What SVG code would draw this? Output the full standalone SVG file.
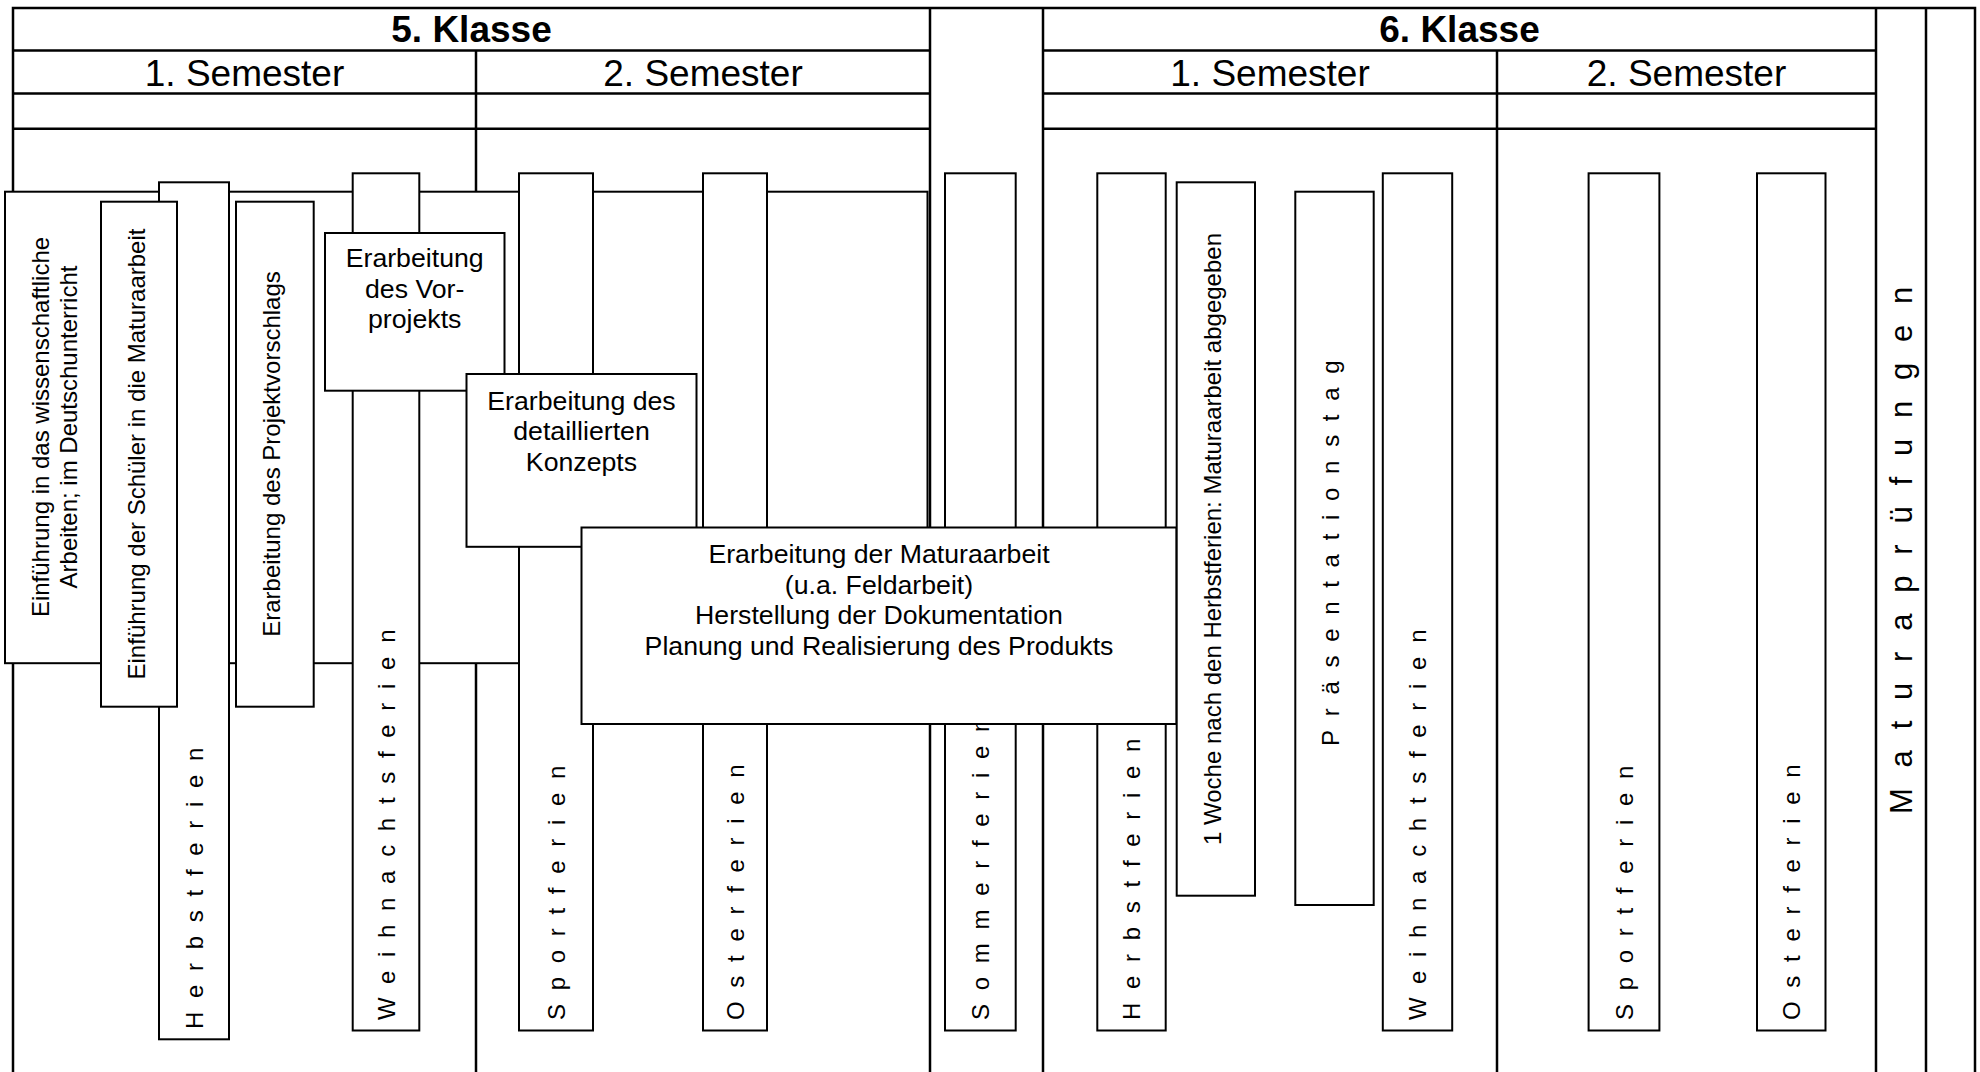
<svg xmlns="http://www.w3.org/2000/svg" width="1980" height="1072" viewBox="0 0 1980 1072">
<style>
.tbl{stroke:#000;stroke-width:2.5;fill:none}
.box{fill:#fff;stroke:#000;stroke-width:2}
.t{font-family:"Liberation Sans",Arial,Helvetica,sans-serif;fill:#000}
.hb{font-size:37px;font-weight:bold;text-anchor:middle}
.hs{font-size:37px;text-anchor:middle}
.rv{font-size:24px;text-anchor:middle}
.sp{font-size:24px;letter-spacing:13.7px}
.mp{font-size:31px;letter-spacing:20.8px}
.bx{font-size:26.7px;text-anchor:middle}
</style>
<rect width="1980" height="1072" fill="#fff"/>
<g id="table">
  <rect class="tbl" x="13" y="8" width="1962" height="1080"/>
  <line class="tbl" x1="13" y1="50.5" x2="930" y2="50.5"/>
  <line class="tbl" x1="1043" y1="50.5" x2="1876" y2="50.5"/>
  <line class="tbl" x1="13" y1="93.4" x2="930" y2="93.4"/>
  <line class="tbl" x1="1043" y1="93.4" x2="1876" y2="93.4"/>
  <line class="tbl" x1="13" y1="128.8" x2="930" y2="128.8"/>
  <line class="tbl" x1="1043" y1="128.8" x2="1876" y2="128.8"/>
  <line class="tbl" x1="930" y1="8" x2="930" y2="1072"/>
  <line class="tbl" x1="1043" y1="8" x2="1043" y2="1072"/>
  <line class="tbl" x1="1876" y1="8" x2="1876" y2="1072"/>
  <line class="tbl" x1="1926" y1="8" x2="1926" y2="1072"/>
  <line class="tbl" x1="476" y1="50.5" x2="476" y2="1072"/>
  <line class="tbl" x1="1497" y1="50.5" x2="1497" y2="1072"/>
  <text class="t hb" x="471.5" y="42">5. Klasse</text>
  <text class="t hb" x="1459.5" y="42">6. Klasse</text>
  <text class="t hs" x="244.5" y="86">1. Semester</text>
  <text class="t hs" x="703" y="86">2. Semester</text>
  <text class="t hs" x="1270" y="86">1. Semester</text>
  <text class="t hs" x="1686.5" y="86">2. Semester</text>
  <text class="t mp" transform="translate(1912,814) rotate(-90)">Maturaprüfungen</text>
</g>
<g id="einfuehrung-wiss">
  <rect class="box" x="5" y="191.7" width="922.5" height="471.5"/>
  <text class="t rv" transform="translate(49,427) rotate(-90)">Einführung in das wissenschaftliche</text>
  <text class="t rv" transform="translate(77,427) rotate(-90)">Arbeiten; im Deutschunterricht</text>
</g>
<g id="herbst5">
  <rect class="box" x="159" y="182.3" width="70" height="857"/>
  <text class="t sp" transform="translate(203,1029) rotate(-90)">Herbstferien</text>
</g>
<g id="einfuehrung-schueler">
  <rect class="box" x="101" y="201.7" width="76" height="505"/>
  <text class="t rv" transform="translate(145,454) rotate(-90)">Einführung der Schüler in die Maturaarbeit</text>
</g>
<g id="projektvorschlag">
  <rect class="box" x="236" y="201.7" width="77.7" height="505"/>
  <text class="t rv" transform="translate(280,454) rotate(-90)">Erarbeitung des Projektvorschlags</text>
</g>
<g id="weihnacht5">
  <rect class="box" x="352.7" y="173.3" width="66.6" height="857.2"/>
  <text class="t sp" transform="translate(395,1020) rotate(-90)">Weihnachtsferien</text>
</g>
<g id="vorprojekt">
  <rect class="box" x="325" y="233" width="179.5" height="157.7"/>
  <text class="t bx" x="414.7" y="267">Erarbeitung</text>
  <text class="t bx" x="414.7" y="297.5">des Vor-</text>
  <text class="t bx" x="414.7" y="328">projekts</text>
</g>
<g id="sport5">
  <rect class="box" x="519" y="173.3" width="74" height="857.2"/>
  <text class="t sp" transform="translate(565,1020) rotate(-90)">Sportferien</text>
</g>
<g id="ostern5">
  <rect class="box" x="703" y="173.3" width="64" height="857.2"/>
  <text class="t sp" transform="translate(744,1020) rotate(-90)">Osterferien</text>
</g>
<g id="konzept">
  <rect class="box" x="466.5" y="374" width="230" height="172.8"/>
  <text class="t bx" x="581.5" y="409.5">Erarbeitung des</text>
  <text class="t bx" x="581.5" y="440">detaillierten</text>
  <text class="t bx" x="581.5" y="470.5">Konzepts</text>
</g>
<g id="sommer">
  <rect class="box" x="945" y="173.3" width="70.7" height="857.2"/>
  <text class="t sp" transform="translate(989,1020) rotate(-90)" letter-spacing="13.2">Sommerferien</text>
</g>
<g id="herbst6">
  <rect class="box" x="1097.3" y="173.3" width="68.4" height="857.2"/>
  <text class="t sp" transform="translate(1140,1020) rotate(-90)">Herbstferien</text>
</g>
<g id="maturaarbeit">
  <rect class="box" x="581.5" y="527.5" width="595" height="196.5"/>
  <text class="t bx" x="879" y="563">Erarbeitung der Maturaarbeit</text>
  <text class="t bx" x="879" y="593.5">(u.a. Feldarbeit)</text>
  <text class="t bx" x="879" y="624">Herstellung der Dokumentation</text>
  <text class="t bx" x="879" y="654.5">Planung und Realisierung des Produkts</text>
</g>
<g id="abgabe">
  <rect class="box" x="1176.7" y="182.3" width="78.3" height="713.4"/>
  <text class="t rv" transform="translate(1221,539) rotate(-90)">1 Woche nach den Herbstferien: Maturaarbeit abgegeben</text>
</g>
<g id="praesentation">
  <rect class="box" x="1295.3" y="191.7" width="78.4" height="713.3"/>
  <text class="t sp" transform="translate(1339,746) rotate(-90)">Präsentationstag</text>
</g>
<g id="weihnacht6">
  <rect class="box" x="1382.8" y="173.3" width="69.4" height="857.2"/>
  <text class="t sp" transform="translate(1426,1020) rotate(-90)">Weihnachtsferien</text>
</g>
<g id="sport6">
  <rect class="box" x="1588.6" y="173.3" width="70.8" height="857.2"/>
  <text class="t sp" transform="translate(1633,1020) rotate(-90)">Sportferien</text>
</g>
<g id="ostern6">
  <rect class="box" x="1757" y="173.3" width="68.5" height="857.2"/>
  <text class="t sp" transform="translate(1800,1020) rotate(-90)">Osterferien</text>
</g>
<g id="connectors"></g>
</svg>
